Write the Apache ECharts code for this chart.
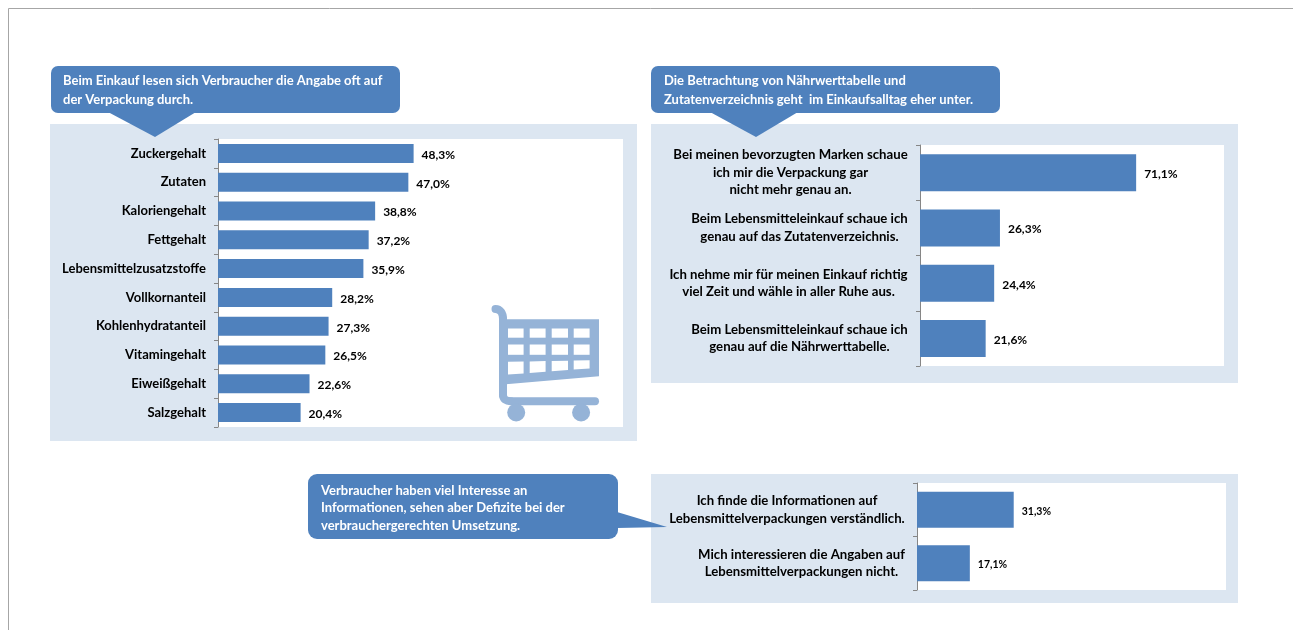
<!DOCTYPE html>
<html><head><meta charset="utf-8">
<style>html,body{margin:0;padding:0;background:#fff}#c{width:1293px;height:630px}</style>
<script src="https://cdn.jsdelivr.net/npm/echarts@6/dist/echarts.min.js"></script>
</head><body><div id="c"></div>
<script>
const attributeCategories = ['Zuckergehalt','Zutaten','Kaloriengehalt','Fettgehalt','Lebensmittelzusatzstoffe','Vollkornanteil','Kohlenhydratanteil','Vitamingehalt','Eiweißgehalt','Salzgehalt'];
const attributeValues = [48.3,47.0,38.8,37.2,35.9,28.2,27.3,26.5,22.6,20.4];
const habitCategories = ['Bei meinen bevorzugten Marken schaue\nich mir die Verpackung gar\nnicht mehr genau an.','Beim Lebensmitteleinkauf schaue ich\ngenau auf das Zutatenverzeichnis.','Ich nehme mir für meinen Einkauf richtig\nviel Zeit und wähle in aller Ruhe aus.','Beim Lebensmitteleinkauf schaue ich\ngenau auf die Nährwerttabelle.'];
const habitValues = [71.1,26.3,24.4,21.6];
const interestCategories = ['Ich finde die Informationen auf\nLebensmittelverpackungen verständlich.','Mich interessieren die Angaben auf\nLebensmittelverpackungen nicht.'];
const interestValues = [31.3,17.1];
const calloutTexts = ['Beim Einkauf lesen sich Verbraucher die Angabe oft auf\nder Verpackung durch.','Die Betrachtung von Nährwerttabelle und\nZutatenverzeichnis geht  im Einkaufsalltag eher unter.','Verbraucher haben viel Interesse an\nInformationen, sehen aber Defizite bei der\nverbrauchergerechten Umsetzung.'];

const FONT = 'Lato, "Open Sans", sans-serif';
const BLUE = '#4f81bd', PANEL = '#dce6f1', CART = '#95b3d7', AXIS = '#868686';
const pct = v => v.toFixed(1).replace('.', ',') + '%';
const ctx = document.createElement('canvas').getContext('2d');

function centredLabels(cats, size, lh) {
  ctx.font = 'bold ' + size + 'px Lato';
  const rich = {};
  const map = {};
  cats.forEach((c, i) => {
    const w = Math.ceil(Math.max(...c.split('\n').map(l => ctx.measureText(l).width)));
    rich['w' + i] = { width: w, align: 'center', fontFamily: FONT, fontWeight: 'bold', fontSize: size, lineHeight: lh, color: '#000' };
    map[c] = c.split('\n').map(l => '{w' + i + '|' + l + '}').join('\n');
  });
  return { rich, formatter: v => map[v] };
}

const grids = [
  { left: 218, top: 139, width: 405, height: 288 },
  { left: 920, top: 145, width: 304, height: 221 },
  { left: 917, top: 483, width: 309, height: 107 }
];
const sets = [
  { cats: attributeCategories, vals: attributeValues, bw: 19, size: 13, lh: 15, lsize: 12, dist: 8, margin: 12, centre: false },
  { cats: habitCategories, vals: habitValues, bw: 37, size: 13.2, lh: 17.5, lsize: 12, dist: 8, margin: 12, centre: true },
  { cats: interestCategories, vals: interestValues, bw: 36, size: 13.2, lh: 17.5, lsize: 10.5, dist: 8, margin: 12, centre: true }
];

function rr(x, y, w, h, r) {
  return { type: 'rect', shape: { x, y, width: w, height: h, r }, style: { fill: BLUE }, z: 100, silent: true };
}
function tip(pts) { return { type: 'polygon', shape: { points: pts }, style: { fill: BLUE }, z: 100, silent: true }; }
function panel(x, y, w, h) { return { type: 'rect', shape: { x, y, width: w, height: h }, style: { fill: PANEL }, z: -10, silent: true }; }
function note(x, y, t, lh) {
  return { type: 'text', x, y, z: 101, silent: true, style: { text: t, fill: '#fff', font: 'bold 13px ' + FONT, lineHeight: lh, textVerticalAlign: 'top' } };
}
function hole(p) { return { type: 'polygon', shape: { points: p }, style: { fill: '#fff' }, z: 50, silent: true }; }
function stroke(type, shape) {
  return { type, shape, style: { fill: 'none', stroke: CART, lineWidth: 8, lineCap: 'round' }, z: 49, silent: true };
}

const cartCols = [[510,525.6],[531.7,547.6],[553.7,570],[575.7,591.6]];
const cartHoles = [];
cartCols.forEach(c => {
  cartHoles.push(hole([[c[0],329.5],[c[1],329.5],[c[1],338.7],[c[0],338.7]]));
  cartHoles.push(hole([[c[0],345.5],[c[1],345.5],[c[1],355.8],[c[0],355.8]]));
  const top = x => 362.8 - (x - 510) * 0.018, bot = x => 375.6 - (x - 510) * 0.076;
  cartHoles.push(hole([[c[0],top(c[0])],[c[1],top(c[1])],[c[1],bot(c[1])],[c[0],bot(c[0])]]));
});

const graphic = [
  { type: 'line', shape: { x1: 8.5, y1: 8.5, x2: 1293, y2: 8.5 }, style: { stroke: '#a6a6a6', lineWidth: 1 }, silent: true },
  { type: 'line', shape: { x1: 8.5, y1: 8.5, x2: 8.5, y2: 630 }, style: { stroke: '#a6a6a6', lineWidth: 1 }, silent: true },
  panel(50, 124, 587, 317), panel(651, 124, 587, 259), panel(651, 474, 587, 129),
  rr(51, 66, 349, 47, 7), tip([[108,112],[155,137],[196,112]]),
  rr(651, 66, 349, 47, 7), tip([[710,112],[756,137],[798,112]]),
  rr(308, 474, 310, 65, 9), tip([[617,512],[667,527],[617,528]]),
  note(63, 72, calloutTexts[0], 18.5), note(664, 72, calloutTexts[1], 18.5), note(321, 482, calloutTexts[2], 17.5),
  { type: 'group', x: -2, y: -1, children: [
    { type: 'polygon', shape: { points: [[505,320.3],[601,320.3],[601,377.3],[505,385.5]] }, style: { fill: CART }, z: 49, silent: true },
    stroke('bezierCurve', { x1: 497.5, y1: 310, x2: 505, y2: 320, cpx1: 502, cpy1: 310, cpx2: 505, cpy2: 314 }),
    stroke('line', { x1: 505, y1: 320, x2: 505, y2: 396 }),
    stroke('bezierCurve', { x1: 505, y1: 396, x2: 512.8, y2: 402.2, cpx1: 505, cpy1: 400, cpx2: 508, cpy2: 402.2 }),
    stroke('line', { x1: 512.8, y1: 402.2, x2: 597, y2: 402.2 }),
    { type: 'circle', shape: { cx: 518.2, cy: 413.5, r: 9 }, style: { fill: CART }, z: 49, silent: true },
    { type: 'circle', shape: { cx: 583.1, cy: 413.5, r: 9 }, style: { fill: CART }, z: 49, silent: true },
    ...cartHoles
  ] }
];

const option = {
  animation: false,
  backgroundColor: '#fff',
  textStyle: { fontFamily: FONT },
  graphic,
  grid: grids.map(g => ({ ...g, show: true, backgroundColor: '#fff', borderWidth: 0, containLabel: false })),
  xAxis: grids.map((g, i) => ({ type: 'value', gridIndex: i, min: 0, max: 100, show: false })),
  yAxis: sets.map((s, i) => {
    const lab = s.centre ? centredLabels(s.cats, s.size, s.lh) : {};
    return {
      type: 'category', gridIndex: i, inverse: true, data: s.cats,
      axisLine: { show: true, lineStyle: { color: AXIS, width: 1 } },
      axisTick: { show: true, length: 4, lineStyle: { color: AXIS } },
      axisLabel: { interval: 0, margin: s.margin, color: '#000', fontFamily: FONT, fontWeight: 'bold', fontSize: s.size, lineHeight: s.lh, ...lab }
    };
  }),
  series: sets.map((s, i) => ({
    type: 'bar', xAxisIndex: i, yAxisIndex: i, data: s.vals, barWidth: s.bw,
    itemStyle: { color: BLUE },
    label: { show: true, position: 'right', distance: s.dist, offset: [0, 1.5], formatter: p => pct(p.value), color: '#000', fontFamily: FONT, fontWeight: 'bold', fontSize: s.lsize }
  }))
};
echarts.init(document.getElementById('c'), null, { renderer: 'canvas' }).setOption(option);
</script></body></html>
